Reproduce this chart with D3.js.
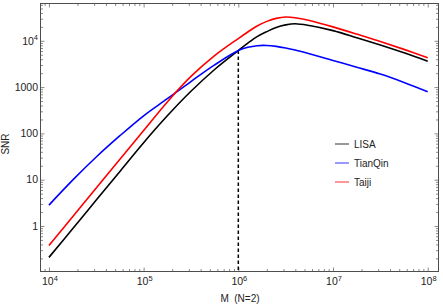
<!DOCTYPE html>
<html>
<head>
<meta charset="utf-8">
<script src="https://d3js.org/d3.v7.min.js"></script>
<style>
    body { margin: 0; background: #ffffff; }
    text { font-family: "Liberation Sans", Arial, sans-serif; fill: #222; }
</style>
</head>
<body>
<div id="snr_chart"></div>
<script>
// total mass M (N=2) and the SNR of each detector
var massValues = [1.0e4, 1.78e4, 3.16e4, 5.62e4, 1.0e5, 1.78e5, 3.16e5, 5.62e5, 1.0e6, 1.26e6, 1.58e6,
    2.0e6, 2.51e6, 3.16e6, 3.98e6, 5.62e6, 1.0e7, 1.78e7, 3.16e7, 5.62e7, 1.0e8];
var lisaSNR = [0.21, 0.87, 3.63, 15.1, 63.1, 240, 813, 2400, 6170, 8910, 12300,
    15800, 19500, 22100, 23400, 21400, 16600, 11700, 8130, 5500, 3630];
var tianqinSNR = [2.82, 9.77, 30.9, 89.1, 240, 562, 1320, 3020, 6170, 7240, 7850,
    7940, 7590, 7000, 6310, 5250, 3760, 2690, 1910, 1260, 794];
var taijiSNR = [0.38, 1.58, 6.61, 27.5, 115, 479, 1700, 4790, 11200, 15500, 20900,
    26300, 30500, 32700, 31600, 27500, 20000, 14000, 9660, 6530, 4320];

var seriesNames = ["LISA", "TianQin", "Taiji"];
var seriesColors = ["#000000", "#0000ff", "#ff0000"];

// tick labels
var xTickExponents = [4, 5, 6, 7, 8];
var yTickValues = [1, 10, 100, 1000, 10000];
var yTickLabels = ["1", "10", "100", "1000", "10^4"];

// dashed marker at M = 10^6
var markerMass = 1e6;
var markerSNR = 6170;

var margin = {
        top: 3.5,
        right: 4.5,
        bottom: 33.5,
        left: 40.5
    },
    width = 443 - margin.left - margin.right,
    height = 305 - margin.top - margin.bottom;

var svg = d3.select("#snr_chart")
    .append("svg")
    .attr("width", 443)
    .attr("height", 305);

var g = svg.append("g")
    .attr("transform", "translate(" + margin.left + "," + margin.top + ")");

var xScale = d3.scaleLog().domain([Math.pow(10, 3.911), Math.pow(10, 8.114)]).range([0, width]);
var yScale = d3.scaleLog().domain([Math.pow(10, -0.983), Math.pow(10, 4.806)]).range([height, 0]);

// major + minor tick values for both log axes
function logTicks(scale) {
    var dom = scale.domain(), major = [], minor = [];
    for (var e = Math.floor(Math.log10(dom[0])); e <= Math.ceil(Math.log10(dom[1])); e++) {
        for (var k = 1; k < 10; k++) {
            var v = k * Math.pow(10, e);
            if (v < dom[0] || v > dom[1]) continue;
            if (k == 1) major.push(v); else minor.push(v);
        }
    }
    return {major: major, minor: minor};
}
var xt = logTicks(xScale), yt = logTicks(yScale);

// inward ticks on all four sides
function drawTicks(axisFn, scale, values, len, transform) {
    var a = g.append("g")
        .attr("transform", transform)
        .call(axisFn(scale).tickValues(values).tickSize(-len).tickFormat(""));
    a.select(".domain").remove();
    a.selectAll("line").attr("stroke", "#8a8a8a");
}
[[xt.major, 4], [xt.minor, 2.5]].forEach(function (t) {
    drawTicks(d3.axisBottom, xScale, t[0], t[1], "translate(0," + height + ")");
    drawTicks(d3.axisTop, xScale, t[0], t[1], "translate(0,0)");
});
[[yt.major, 4], [yt.minor, 2.5]].forEach(function (t) {
    drawTicks(d3.axisLeft, yScale, t[0], t[1], "translate(0,0)");
    drawTicks(d3.axisRight, yScale, t[0], t[1], "translate(" + width + ",0)");
});

// frame
g.append("rect")
    .attr("width", width)
    .attr("height", height)
    .attr("fill", "none")
    .attr("stroke", "#4d4d4d")
    .attr("stroke-width", 1);

// x tick labels 10^n
xTickExponents.forEach(function (e) {
    var t = g.append("text")
        .attr("x", xScale(Math.pow(10, e)) + 1)
        .attr("y", height + 13.5)
        .attr("text-anchor", "middle")
        .style("font-size", "10.5px");
    t.append("tspan").text("10");
    t.append("tspan").attr("dy", -4.5).style("font-size", "7.5px").text(e);
});

// y tick labels
yTickValues.forEach(function (v, i) {
    var t = g.append("text")
        .attr("x", -2.5)
        .attr("y", yScale(v))
        .attr("dy", "0.36em")
        .attr("text-anchor", "end")
        .style("font-size", "10.5px");
    var parts = yTickLabels[i].split("^");
    t.append("tspan").text(parts[0]);
    if (parts.length > 1) {
        t.append("tspan").attr("dy", -4.5).style("font-size", "7.5px").text(parts[1]);
    }
});

// axis titles
svg.append("text")
    .attr("transform", "translate(8.5,144) rotate(-90)")
    .attr("text-anchor", "middle")
    .style("font-size", "10px")
    .text("SNR");

svg.append("text")
    .attr("x", 240)
    .attr("y", 302)
    .attr("text-anchor", "middle")
    .style("font-size", "10px")
    .style("white-space", "pre")
    .text("M  (N=2)");

// dashed marker line
g.append("line")
    .attr("x1", xScale(markerMass))
    .attr("x2", xScale(markerMass))
    .attr("y1", yScale(markerSNR))
    .attr("y2", height)
    .attr("stroke", "#000")
    .attr("stroke-width", 1.5)
    .attr("stroke-dasharray", "3.5,2.5");

// curves
var line = d3.line()
    .x(function (d) { return xScale(d[0]); })
    .y(function (d) { return yScale(d[1]); })
    .curve(d3.curveCatmullRom.alpha(0.5));

var seriesData = [lisaSNR, tianqinSNR, taijiSNR];
var plot = g.append("g");
seriesData.forEach(function (vals, i) {
    plot.append("path")
        .datum(massValues.map(function (m, j) { return [m, vals[j]]; }))
        .attr("fill", "none")
        .attr("stroke", seriesColors[i])
        .attr("stroke-width", 1.6)
        .attr("d", line);
});

// legend
var legendY = [144, 163, 182];
seriesNames.forEach(function (name, i) {
    svg.append("line")
        .attr("x1", 335)
        .attr("x2", 349)
        .attr("y1", legendY[i])
        .attr("y2", legendY[i])
        .attr("stroke", seriesColors[i])
        .attr("stroke-width", 1)
        .attr("opacity", 0.8);
    svg.append("text")
        .attr("x", 354)
        .attr("y", legendY[i])
        .attr("dy", "0.36em")
        .style("font-size", "10px")
        .text(name);
});
</script>
</body>
</html>
